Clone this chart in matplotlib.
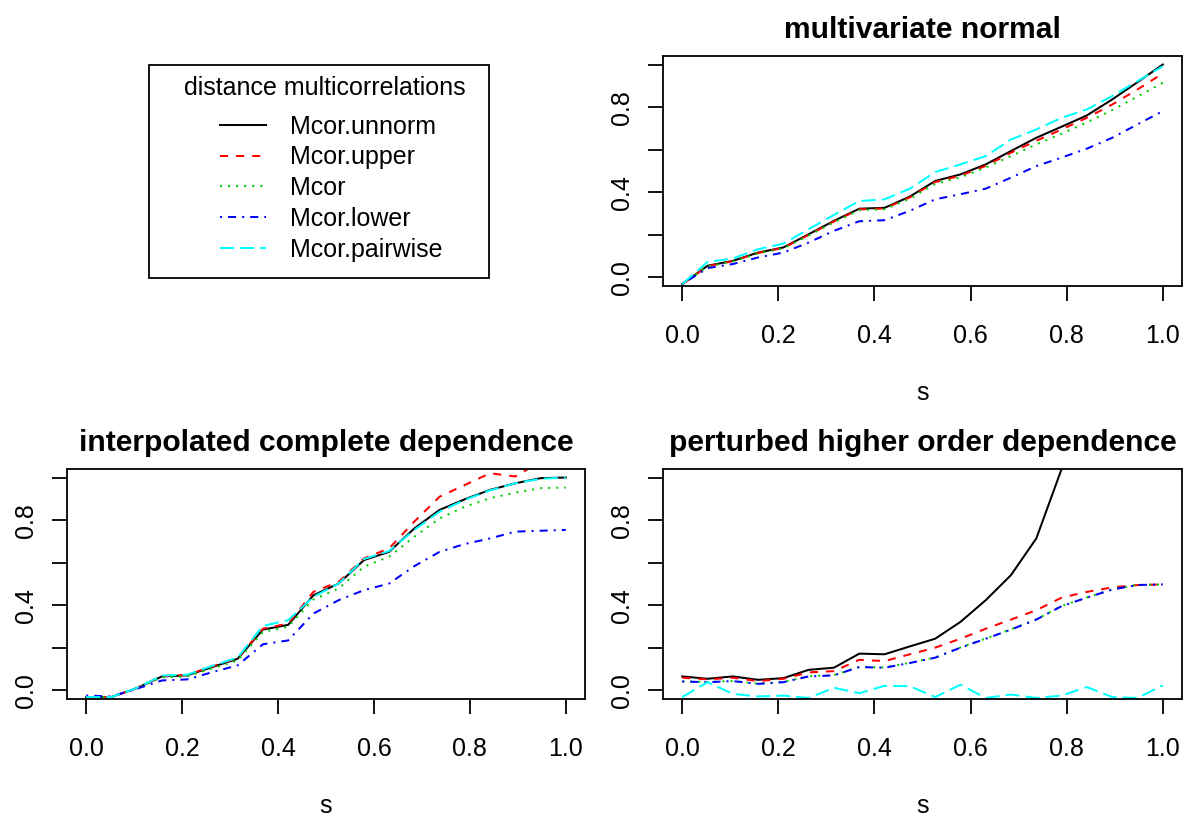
import numpy as np
import matplotlib
matplotlib.use('Agg')
import matplotlib.pyplot as plt
from matplotlib.lines import Line2D
from matplotlib.patches import Rectangle

plt.rcParams['font.family'] = ['Liberation Sans', 'DejaVu Sans']

# grid of s values (20 points from 0 to 1)
s = np.linspace(0, 1, 20)

series_names = ['Mcor.unnorm', 'Mcor.upper', 'Mcor', 'Mcor.lower', 'Mcor.pairwise']
series_colors = ['black', '#FF0000', '#00CD00', '#0000FF', '#00FFFF']
series_dashes = ['solid', (0, (4, 4)), (0, (1, 3)), (0, (1, 3, 4, 3)), (0, (7, 3))]

# multivariate normal
mvn_unnorm = [-0.031, 0.055, 0.078, 0.117, 0.141, 0.203, 0.266, 0.323, 0.327, 0.380,
              0.453, 0.484, 0.531, 0.594, 0.656, 0.708, 0.761, 0.836, 0.917, 1.000]
mvn_upper = [-0.031, 0.053, 0.077, 0.115, 0.139, 0.200, 0.263, 0.320, 0.324, 0.376,
             0.448, 0.478, 0.524, 0.586, 0.642, 0.695, 0.750, 0.812, 0.883, 0.958]
mvn_mcor = [-0.031, 0.052, 0.075, 0.113, 0.137, 0.197, 0.259, 0.316, 0.320, 0.370,
            0.440, 0.470, 0.516, 0.570, 0.625, 0.675, 0.728, 0.786, 0.850, 0.914]
mvn_lower = [-0.031, 0.044, 0.063, 0.094, 0.117, 0.164, 0.219, 0.264, 0.269, 0.313,
             0.367, 0.391, 0.417, 0.469, 0.523, 0.563, 0.605, 0.656, 0.719, 0.781]
mvn_pairwise = [-0.031, 0.073, 0.089, 0.133, 0.159, 0.227, 0.294, 0.359, 0.367, 0.417,
                0.495, 0.531, 0.570, 0.648, 0.695, 0.750, 0.789, 0.852, 0.922, 0.992]

# interpolated complete dependence
icd_unnorm = [-0.031, -0.031, 0.011, 0.066, 0.071, 0.110, 0.149, 0.286, 0.308, 0.447,
              0.502, 0.612, 0.651, 0.761, 0.848, 0.898, 0.942, 0.973, 0.997, 1.000]
icd_upper = [-0.031, -0.031, 0.011, 0.068, 0.073, 0.113, 0.153, 0.290, 0.314, 0.463,
             0.510, 0.620, 0.667, 0.793, 0.910, 0.965, 1.020, 1.005, 1.075, 1.090]
icd_mcor = [-0.031, -0.031, 0.010, 0.062, 0.066, 0.104, 0.141, 0.275, 0.300, 0.427,
            0.479, 0.581, 0.628, 0.722, 0.808, 0.863, 0.903, 0.929, 0.950, 0.953]
icd_lower = [-0.024, -0.028, 0.008, 0.047, 0.052, 0.086, 0.118, 0.217, 0.235, 0.361,
             0.424, 0.471, 0.502, 0.584, 0.651, 0.688, 0.714, 0.746, 0.750, 0.754]
icd_pairwise = [-0.031, -0.031, 0.012, 0.070, 0.074, 0.116, 0.155, 0.303, 0.330, 0.440,
                0.502, 0.617, 0.655, 0.754, 0.840, 0.895, 0.940, 0.973, 0.994, 1.000]

# perturbed higher order dependence
phod_unnorm = [0.066, 0.055, 0.066, 0.050, 0.058, 0.097, 0.107, 0.173, 0.170, 0.207,
               0.243, 0.322, 0.424, 0.542, 0.714, 1.040, 1.500, 2.100, 2.900, 4.000]
phod_upper = [0.060, 0.052, 0.060, 0.044, 0.055, 0.085, 0.091, 0.144, 0.138, 0.170,
              0.201, 0.243, 0.290, 0.333, 0.377, 0.436, 0.463, 0.484, 0.495, 0.498]
phod_mcor = [0.043, 0.040, 0.045, 0.032, 0.040, 0.067, 0.072, 0.111, 0.108, 0.130,
             0.155, 0.202, 0.244, 0.287, 0.334, 0.397, 0.437, 0.475, 0.496, 0.498]
phod_lower = [0.042, 0.039, 0.044, 0.031, 0.039, 0.066, 0.071, 0.110, 0.107, 0.129,
              0.154, 0.201, 0.243, 0.286, 0.333, 0.396, 0.436, 0.474, 0.495, 0.498]
phod_pairwise = [-0.031, 0.039, -0.016, -0.028, -0.024, -0.035, 0.013, -0.013, 0.022, 0.020,
                 -0.031, 0.027, -0.035, -0.019, -0.035, -0.024, 0.016, -0.031, -0.035, 0.024]

x_ticks = [0.0, 0.2, 0.4, 0.6, 0.8, 1.0]
x_ticklabels = ['0.0', '0.2', '0.4', '0.6', '0.8', '1.0']
y_ticks = [0.0, 0.2, 0.4, 0.6, 0.8, 1.0]
y_ticklabels = ['0.0', '', '0.4', '', '0.8', '']

W, H = 1184, 816
fig = plt.figure(figsize=(W / 100, H / 100), dpi=100)


def px_axes(left, top, right, bottom):
    return fig.add_axes([left / W, 1 - bottom / H, (right - left) / W, (bottom - top) / H])


def panel(ax, title, data):
    for vals, c, d in zip(data, series_colors, series_dashes):
        ax.plot(s, vals, color=c, linestyle=d, linewidth=1.45)
    ax.set_xlim(-0.04, 1.04)
    ax.set_ylim(-0.04, 1.04)
    ax.set_xticks(x_ticks)
    ax.set_xticklabels(x_ticklabels)
    ax.set_yticks(y_ticks)
    ax.set_yticklabels(y_ticklabels, rotation=90, va='center')
    ax.tick_params(direction='out', length=10.8, width=1.3, labelsize=18)
    ax.tick_params(axis='x', pad=16.5)
    ax.tick_params(axis='y', pad=10)
    for sp in ax.spines.values():
        sp.set_linewidth(1.3)
    ax.set_title(title, fontsize=21.6, fontweight='bold', pad=13)
    ax.set_xlabel('s', fontsize=18, labelpad=24)


ax1 = px_axes(663, 56, 1182, 286)
panel(ax1, 'multivariate normal',
      [mvn_unnorm, mvn_upper, mvn_mcor, mvn_lower, mvn_pairwise])

ax2 = px_axes(67, 469, 585, 699)
panel(ax2, 'interpolated complete dependence',
      [icd_unnorm, icd_upper, icd_mcor, icd_lower, icd_pairwise])

ax3 = px_axes(663, 469, 1182, 699)
panel(ax3, 'perturbed higher order dependence',
      [phod_unnorm, phod_upper, phod_mcor, phod_lower, phod_pairwise])

# legend in the empty top-left cell
handles = [Line2D([], [], color=c, linestyle=d, linewidth=1.45)
           for c, d in zip(series_colors, series_dashes)]
fig.legend(handles, series_names, loc='center left',
           bbox_to_anchor=(220 / W, 1 - 188 / H),
           frameon=False, fontsize=18, borderpad=0, borderaxespad=0,
           handlelength=1.84, handletextpad=0.95, labelspacing=0.27)
fig.text(325 / W, 1 - 88 / H, 'distance multicorrelations', fontsize=18,
         ha='center', va='center')
fig.patches.append(Rectangle((149 / W, 1 - 278 / H), 340 / W, 213 / H,
                             transform=fig.transFigure, fill=False,
                             edgecolor='black', linewidth=1.3))

fig.savefig('out.png', dpi=100)
